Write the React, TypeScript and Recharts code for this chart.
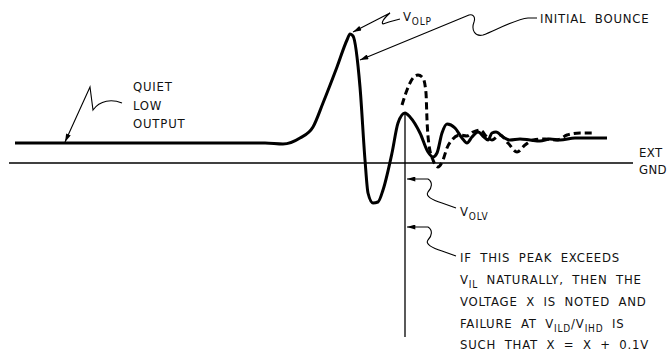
import { LineChart, Line, XAxis, YAxis, ReferenceLine } from "recharts";

// Ground bounce waveform (quiet low output). t in ns, v in volts above external GND.
const W = 670;
const H = 354;
const T_DOMAIN: [number, number] = [0, 67];
const V_DOMAIN: [number, number] = [-1.91, 1.63];

const quietT = [1.5, 26.5, 28.3, 30.0, 31.3, 32.3, 33.7, 34.7, 35.0, 35.3, 36.0, 36.5, 36.8, 37.3, 37.8, 38.3, 39.2, 39.8, 40.5, 41.0, 42.0, 42.8, 43.3, 43.7, 44.2, 44.7, 45.5, 46.2, 46.7, 47.2, 47.8, 48.4, 48.8, 49.2, 49.6, 50.3, 51.0, 52.0, 53.0, 54.0, 55.0, 56.0, 57.5, 59.0, 60.7];
const quietV = [0.2, 0.2, 0.19, 0.25, 0.36, 0.6, 0.96, 1.23, 1.29, 1.27, 0.76, 0.03, -0.3, -0.4, -0.39, -0.27, 0.1, 0.4, 0.5, 0.46, 0.3, 0.11, 0.06, 0.1, 0.3, 0.39, 0.35, 0.25, 0.2, 0.26, 0.31, 0.26, 0.23, 0.3, 0.31, 0.26, 0.23, 0.24, 0.23, 0.22, 0.24, 0.23, 0.25, 0.25, 0.25];

const driveT = [40.2, 40.7, 41.3, 41.8, 42.3, 42.6, 42.7, 42.9, 43.3, 43.8, 44.3, 44.7, 45.2, 46.0, 46.7, 47.3, 48.0, 48.7, 49.2, 50.0, 50.8, 51.7, 52.5, 53.3, 54.5, 55.7, 56.7, 58.0, 59.2];
const driveV = [0.58, 0.73, 0.85, 0.88, 0.85, 0.7, 0.43, 0.18, 0.03, -0.04, 0.03, 0.15, 0.23, 0.28, 0.27, 0.31, 0.33, 0.26, 0.23, 0.28, 0.2, 0.11, 0.18, 0.23, 0.24, 0.23, 0.28, 0.3, 0.3];

const GND_START = 0.9;
const GND_END = 63.3;
const MARK_T = 40.5;
const MARK_TOP = 0.51;
const MARK_BOTTOM = -1.74;

const quietData = quietT.map((t, i) => ({ t, v: quietV[i] }));
const driveData = driveT.map((t, i) => ({ t, v: driveV[i] }));

const FONT = '"Liberation Sans Narrow", "DejaVu Sans Condensed", "Liberation Sans", sans-serif';

function Label({ x, y, children, spacing = 0.8 }: { x: number; y: number; children: React.ReactNode; spacing?: number }) {
  return (
    <text x={x} y={y} fontFamily={FONT} fontSize={13} letterSpacing={spacing} wordSpacing={4} fill="#111">
      {children}
    </text>
  );
}

function Sub({ children }: { children: React.ReactNode }) {
  return (
    <tspan fontSize={10} dy={4}>
      {children}
    </tspan>
  );
}

function Annotations() {
  const line = { fill: "none", stroke: "#000", strokeWidth: 1.1, markerEnd: "url(#ah)" };
  return (
    <svg width={W} height={H} style={{ position: "absolute", left: 0, top: 0, pointerEvents: "none" }}>
      <defs>
        <marker id="ah" viewBox="0 0 10 6" refX="10" refY="3" markerWidth="10" markerHeight="5" orient="auto" markerUnits="userSpaceOnUse">
          <path d="M0,0 L10,3 L0,6 z" fill="#000" />
        </marker>
      </defs>
      <path d="M122,103 C112,99 100,100 93,110 L90,87 L65,142" {...line} />
      <path d="M400,19 Q388,22 383,24 Q380,22 390,13 L353,32" {...line} />
      <path d="M537,18 L528,18 C516,19 496,30 483,35 C475,37 471,30 474,22 C476,16 472,14 469,15 L360,60" {...line} />
      <path d="M456,208 L442,203 C432,200 425,196 428,192 C432,188 433,182 428,179 L407,179" {...line} />
      <path d="M456,256 L442,251 C432,248 425,244 428,240 C432,236 433,230 428,227 L407,227" {...line} />

      <Label x={133} y={91}>QUIET</Label>
      <Label x={133} y={110}>LOW</Label>
      <Label x={133} y={128}>OUTPUT</Label>

      <Label x={403} y={21}>
        V<Sub>OLP</Sub>
      </Label>
      <Label x={540} y={23}>INITIAL BOUNCE</Label>
      <Label x={639} y={157} spacing={0.4}>EXT</Label>
      <Label x={639} y={174} spacing={0.4}>GND</Label>

      <Label x={460} y={216}>
        V<Sub>OLV</Sub>
      </Label>
      <Label x={460} y={262}>IF THIS PEAK EXCEEDS</Label>
      <Label x={460} y={284}>
        V<Sub>IL</Sub>
        <tspan dy={-4}> NATURALLY, THEN THE</tspan>
      </Label>
      <Label x={460} y={306}>VOLTAGE X IS NOTED AND</Label>
      <Label x={460} y={328}>
        FAILURE AT V<Sub>ILD</Sub>
        <tspan dy={-4}>/V</tspan>
        <Sub>IHD</Sub>
        <tspan dy={-4}> IS</tspan>
      </Label>
      <Label x={460} y={349}>SUCH THAT X = X + 0.1V</Label>
    </svg>
  );
}

export default function App() {
  return (
    <div style={{ position: "absolute", left: 0, top: 0, width: W, height: H, background: "#fff" }}>
      <LineChart width={W} height={H} margin={{ top: 0, right: 0, bottom: 0, left: 0 }}>
        <XAxis type="number" dataKey="t" domain={T_DOMAIN} hide />
        <YAxis type="number" dataKey="v" domain={V_DOMAIN} hide />
        <ReferenceLine
          segment={[
            { x: GND_START, y: 0 },
            { x: GND_END, y: 0 },
          ]}
          stroke="#000"
          strokeWidth={1.3}
        />
        <ReferenceLine
          segment={[
            { x: MARK_T, y: MARK_TOP },
            { x: MARK_T, y: MARK_BOTTOM },
          ]}
          stroke="#000"
          strokeWidth={1.3}
        />
        <Line
          data={quietData}
          dataKey="v"
          type="monotone"
          stroke="#000"
          strokeWidth={3}
          dot={false}
          activeDot={false}
          legendType="none"
          isAnimationActive={false}
        />
        <Line
          data={driveData}
          dataKey="v"
          type="monotone"
          stroke="#000"
          strokeWidth={3}
          strokeDasharray="7 4"
          dot={false}
          activeDot={false}
          legendType="none"
          isAnimationActive={false}
        />
      </LineChart>
      <Annotations />
    </div>
  );
}
